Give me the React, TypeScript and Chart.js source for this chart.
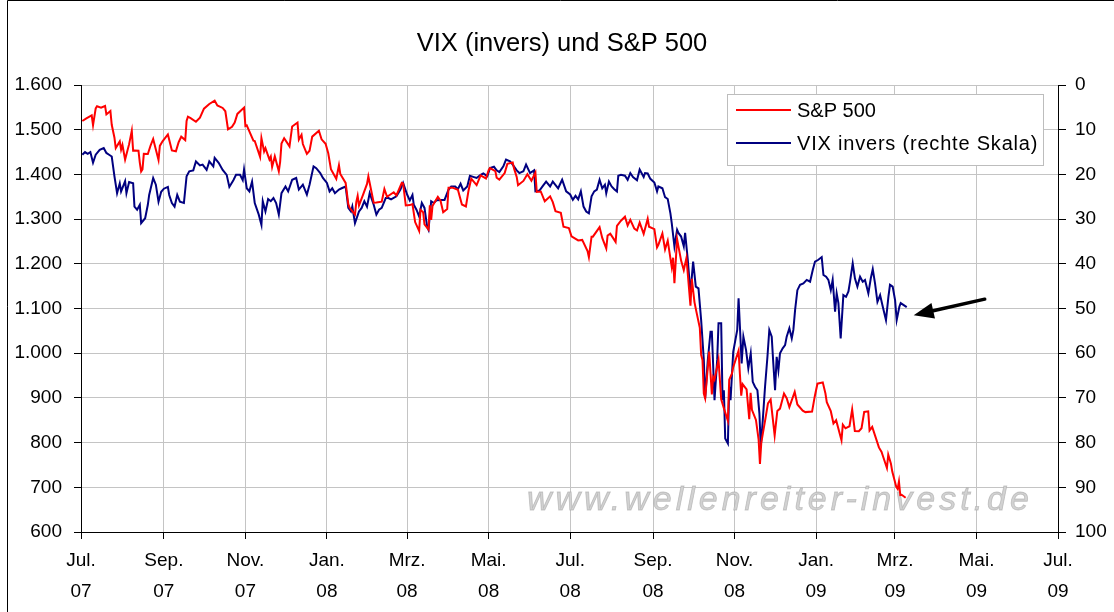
import { useEffect, useRef } from "react";
import { Chart, registerables } from "chart.js";

Chart.register(...registerables);

const chartTitle = "VIX (invers) und S&P 500";
const spxLabel = "S&P 500";
const vixLabel = "VIX invers (rechte Skala)";
const watermarkText = "www.wellenreiter-invest.de";
const startDate = "2007-07-01";

const tickDates = [
  "2007-07-01", "2007-09-01", "2007-11-01", "2008-01-01", "2008-03-01", "2008-05-01", "2008-07-01",
  "2008-09-01", "2008-11-01", "2009-01-01", "2009-03-01", "2009-05-01", "2009-07-01",
];
const tickMonths = ["Jul.", "Sep.", "Nov.", "Jan.", "Mrz.", "Mai.", "Jul.", "Sep.", "Nov.", "Jan.", "Mrz.", "Mai.", "Jul."];
const tickYears = ["07", "07", "07", "08", "08", "08", "08", "08", "08", "09", "09", "09", "09"];

const spxDates = [
  "2007-07-02", "2007-07-05", "2007-07-09", "2007-07-10", "2007-07-12", "2007-07-13", "2007-07-16", "2007-07-19",
  "2007-07-20", "2007-07-23", "2007-07-24", "2007-07-26", "2007-07-27", "2007-07-30", "2007-07-31", "2007-08-01",
  "2007-08-03", "2007-08-06", "2007-08-08", "2007-08-09", "2007-08-10", "2007-08-13", "2007-08-14", "2007-08-15",
  "2007-08-16", "2007-08-17", "2007-08-20", "2007-08-22", "2007-08-24", "2007-08-28", "2007-08-29", "2007-08-31",
  "2007-09-04", "2007-09-07", "2007-09-10", "2007-09-12", "2007-09-14", "2007-09-17", "2007-09-18", "2007-09-19",
  "2007-09-21", "2007-09-25", "2007-09-28", "2007-10-01", "2007-10-05", "2007-10-09", "2007-10-11", "2007-10-15",
  "2007-10-17", "2007-10-19", "2007-10-22", "2007-10-24", "2007-10-26", "2007-10-31", "2007-11-01", "2007-11-02",
  "2007-11-07", "2007-11-08", "2007-11-12", "2007-11-13", "2007-11-15", "2007-11-16", "2007-11-19", "2007-11-20",
  "2007-11-21", "2007-11-23", "2007-11-26", "2007-11-27", "2007-11-28", "2007-11-30", "2007-12-04", "2007-12-06",
  "2007-12-10", "2007-12-11", "2007-12-13", "2007-12-14", "2007-12-17", "2007-12-19", "2007-12-21", "2007-12-26",
  "2007-12-28", "2007-12-31", "2008-01-02", "2008-01-04", "2008-01-08", "2008-01-10", "2008-01-11", "2008-01-15",
  "2008-01-17", "2008-01-18", "2008-01-22", "2008-01-23", "2008-01-24", "2008-01-25", "2008-01-28", "2008-01-31",
  "2008-02-01", "2008-02-05", "2008-02-07", "2008-02-11", "2008-02-13", "2008-02-15", "2008-02-20", "2008-02-22",
  "2008-02-26", "2008-02-27", "2008-02-29", "2008-03-03", "2008-03-05", "2008-03-07", "2008-03-10", "2008-03-11",
  "2008-03-13", "2008-03-14", "2008-03-17", "2008-03-18", "2008-03-19", "2008-03-20", "2008-03-24", "2008-03-26",
  "2008-03-28", "2008-03-31", "2008-04-01", "2008-04-04", "2008-04-08", "2008-04-11", "2008-04-14", "2008-04-16",
  "2008-04-18", "2008-04-22", "2008-04-25", "2008-04-29", "2008-05-01", "2008-05-02", "2008-05-06", "2008-05-07",
  "2008-05-09", "2008-05-13", "2008-05-15", "2008-05-19", "2008-05-20", "2008-05-22", "2008-05-23", "2008-05-27",
  "2008-05-30", "2008-06-02", "2008-06-05", "2008-06-06", "2008-06-09", "2008-06-12", "2008-06-16", "2008-06-18",
  "2008-06-20", "2008-06-24", "2008-06-26", "2008-06-30", "2008-07-02", "2008-07-07", "2008-07-10", "2008-07-14",
  "2008-07-15", "2008-07-17", "2008-07-18", "2008-07-23", "2008-07-25", "2008-07-28", "2008-07-29", "2008-07-31",
  "2008-08-04", "2008-08-05", "2008-08-08", "2008-08-11", "2008-08-13", "2008-08-15", "2008-08-18", "2008-08-20",
  "2008-08-22", "2008-08-25", "2008-08-28", "2008-08-29", "2008-09-02", "2008-09-04", "2008-09-05", "2008-09-08",
  "2008-09-10", "2008-09-12", "2008-09-15", "2008-09-16", "2008-09-17", "2008-09-19", "2008-09-22", "2008-09-24",
  "2008-09-26", "2008-09-29", "2008-09-30", "2008-10-02", "2008-10-03", "2008-10-06", "2008-10-07", "2008-10-08",
  "2008-10-09", "2008-10-10", "2008-10-13", "2008-10-15", "2008-10-16", "2008-10-17", "2008-10-20", "2008-10-22",
  "2008-10-24", "2008-10-27", "2008-10-28", "2008-10-30", "2008-10-31", "2008-11-04", "2008-11-05", "2008-11-06",
  "2008-11-07", "2008-11-10", "2008-11-12", "2008-11-13", "2008-11-14", "2008-11-17", "2008-11-19", "2008-11-20",
  "2008-11-21", "2008-11-24", "2008-11-26", "2008-11-28", "2008-12-01", "2008-12-03", "2008-12-05", "2008-12-08",
  "2008-12-10", "2008-12-12", "2008-12-16", "2008-12-18", "2008-12-22", "2008-12-24", "2008-12-29", "2008-12-31",
  "2009-01-02", "2009-01-06", "2009-01-08", "2009-01-09", "2009-01-12", "2009-01-14", "2009-01-16", "2009-01-20",
  "2009-01-21", "2009-01-23", "2009-01-26", "2009-01-28", "2009-01-30", "2009-02-02", "2009-02-04", "2009-02-06",
  "2009-02-09", "2009-02-10", "2009-02-12", "2009-02-17", "2009-02-19", "2009-02-20", "2009-02-23", "2009-02-24",
  "2009-02-26", "2009-02-27", "2009-03-02", "2009-03-03", "2009-03-04", "2009-03-05", "2009-03-06", "2009-03-09",
];
const spxValues = [
  1519.4, 1525.4, 1531.9, 1510.1, 1547.7, 1552.5, 1549.5, 1553.1,
  1534.1, 1541.6, 1511.0, 1482.7, 1458.9, 1473.9, 1455.3, 1465.8,
  1433.1, 1467.7, 1497.5, 1453.1, 1453.6, 1452.9, 1426.5, 1406.7,
  1411.3, 1445.9, 1445.6, 1464.1, 1479.4, 1432.4, 1463.8, 1474.0,
  1489.4, 1453.6, 1451.7, 1471.6, 1484.3, 1476.7, 1519.8, 1529.0,
  1525.8, 1517.7, 1526.8, 1547.0, 1557.6, 1565.2, 1554.4, 1548.7,
  1541.2, 1500.6, 1506.3, 1515.9, 1535.3, 1549.4, 1508.4, 1509.7,
  1475.6, 1474.8, 1439.2, 1481.1, 1451.2, 1458.7, 1433.3, 1439.7,
  1416.8, 1440.7, 1407.2, 1428.2, 1469.0, 1481.1, 1462.8, 1507.3,
  1516.0, 1477.6, 1488.4, 1468.0, 1445.9, 1453.0, 1484.5, 1497.7,
  1478.5, 1468.4, 1447.2, 1411.6, 1390.2, 1420.3, 1401.0, 1381.0,
  1333.3, 1325.2, 1310.5, 1338.6, 1352.1, 1330.6, 1354.0, 1378.6,
  1395.4, 1336.6, 1336.9, 1339.1, 1367.2, 1350.0, 1360.0, 1353.1,
  1381.3, 1380.0, 1330.6, 1331.3, 1333.7, 1293.4, 1273.4, 1320.7,
  1315.5, 1288.1, 1276.6, 1330.7, 1298.4, 1329.5, 1349.9, 1341.1,
  1315.2, 1322.7, 1370.2, 1370.4, 1365.5, 1332.8, 1328.3, 1364.7,
  1390.3, 1375.9, 1397.8, 1390.9, 1409.3, 1413.9, 1407.5, 1392.6,
  1388.3, 1403.0, 1423.6, 1426.6, 1413.4, 1394.4, 1375.9, 1385.4,
  1400.4, 1385.7, 1404.1, 1360.7, 1361.8, 1339.9, 1350.9, 1337.8,
  1317.9, 1314.3, 1283.2, 1280.0, 1261.5, 1252.3, 1253.4, 1228.3,
  1214.9, 1260.7, 1260.7, 1282.2, 1257.8, 1234.4, 1263.2, 1267.4,
  1249.0, 1284.9, 1296.3, 1305.3, 1285.8, 1298.2, 1278.6, 1274.5,
  1292.2, 1266.8, 1300.7, 1282.8, 1277.6, 1236.8, 1242.3, 1267.8,
  1232.0, 1251.7, 1192.7, 1213.6, 1156.4, 1255.1, 1207.1, 1185.9,
  1213.3, 1106.4, 1166.4, 1114.3, 1099.2, 1056.9, 996.2, 984.9,
  909.9, 899.2, 1003.4, 907.8, 946.4, 940.6, 985.4, 896.8,
  876.8, 848.9, 940.5, 954.1, 968.8, 1005.8, 952.8, 904.9,
  931.0, 919.2, 852.3, 911.3, 873.3, 850.8, 806.6, 752.4,
  800.0, 851.8, 887.7, 896.2, 816.2, 870.7, 876.1, 909.7,
  899.2, 879.7, 913.2, 885.3, 871.6, 868.2, 869.4, 903.3,
  931.8, 934.7, 909.7, 890.4, 870.3, 842.6, 850.1, 805.2,
  840.2, 832.0, 836.6, 874.1, 825.9, 825.4, 832.2, 868.6,
  869.9, 827.2, 835.2, 789.2, 778.9, 770.1, 743.3, 773.1,
  752.8, 735.1, 700.8, 696.3, 712.9, 682.6, 683.4, 676.5,
];

// VIX: days since 2007-07-01 (right scale, inverted)
const vixDays = [
  1, 3, 5, 7, 9, 11, 14, 17, 19, 21, 23, 25, 27, 29, 30, 33, 34, 36, 39, 40,
  42, 44, 45, 48, 50, 51, 54, 56, 58, 60, 62, 65, 66, 68, 70, 72, 74, 77, 79, 81,
  84, 86, 89, 91, 94, 96, 99, 100, 103, 106, 109, 111, 114, 116, 119, 121, 122, 124, 126, 128,
  130, 133, 135, 136, 138, 140, 142, 144, 146, 148, 150, 153, 155, 158, 161, 163, 166, 169, 171, 174,
  176, 179, 181, 184, 186, 188, 190, 193, 195, 198, 200, 202, 203, 205, 208, 210, 212, 214, 216, 219,
  221, 223, 225, 228, 230, 232, 236, 239, 241, 244, 246, 248, 249, 251, 253, 255, 257, 259, 260, 262,
  264, 266, 270, 272, 275, 277, 280, 282, 284, 286, 289, 291, 294, 296, 299, 301, 304, 306, 309, 311,
  313, 316, 318, 321, 323, 326, 328, 331, 333, 336, 339, 340, 343, 346, 348, 351, 353, 357, 360, 363,
  366, 368, 370, 372, 374, 376, 378, 380, 382, 384, 386, 388, 390, 392, 393, 395, 397, 399, 401, 402,
  404, 407, 409, 411, 413, 416, 418, 421, 422, 424, 426, 429, 431, 432, 435, 437, 439, 441, 442, 444,
  446, 447, 449, 451, 452, 454, 456, 458, 460, 462, 464, 466, 467, 469, 471, 472, 474, 476, 477, 479,
  480, 481, 482, 484, 485, 486, 488, 491, 492, 493, 494.3, 495.6, 497.6, 499.3, 501.1, 502.6, 504.3, 506.1, 507.6, 508.6,
  510.1, 511.8, 513.6, 515, 516.8, 518, 519.3, 520.5, 521.8, 523, 525, 526.8, 528, 530, 531.8, 533, 534.3, 536, 538, 540.5,
  543, 545.5, 547.5, 549.2, 551.7, 554.2, 555.5, 557.5, 559.2, 561, 562.4, 564.2, 565.4, 566.7, 568.4, 570.4, 572.4, 574.2, 575.4, 577.4,
  579.1, 580.9, 582.9, 584.9, 586.6, 589.1, 590.9, 592.4, 594.1, 595.9, 597.9, 599.9, 602.3, 604.1, 605.3, 607.3, 609.1, 610.3, 612.3, 613.3,
  615.3, 617.8,
];
const vixValues = [
  15.6, 15.0, 15.4, 15.0, 17.4, 15.6, 14.5, 14.1, 15.2, 15.6, 16.0, 20.4, 24.2, 22.0, 23.8, 21.5, 24.2, 21.7, 22.0, 27.2,
  27.9, 26.8, 30.9, 29.8, 26.8, 24.6, 20.8, 22.3, 26.1, 23.9, 23.2, 22.8, 24.6, 26.4, 27.2, 24.6, 26.1, 26.4, 20.4, 19.3,
  19.1, 17.1, 18.0, 17.8, 19.0, 17.1, 18.2, 16.3, 17.4, 19.0, 20.1, 22.8, 21.3, 20.1, 20.1, 21.3, 18.9, 23.1, 23.8, 21.6,
  26.4, 29.0, 31.3, 26.0, 28.3, 25.5, 26.0, 25.3, 26.4, 29.0, 24.2, 22.7, 23.8, 21.2, 20.8, 23.4, 22.3, 24.5, 22.3, 18.2,
  18.6, 19.7, 20.8, 21.9, 23.8, 23.1, 24.2, 23.4, 23.1, 22.7, 27.5, 28.3, 27.2, 30.9, 28.3, 27.5, 26.0, 27.2, 24.2, 26.8,
  29.0, 27.9, 27.5, 25.3, 25.3, 25.6, 24.9, 23.4, 21.9, 24.5, 25.8, 24.6, 26.8, 27.9, 29.4, 26.4, 27.5, 31.7, 32.4, 26.0,
  26.4, 25.8, 25.7, 25.7, 23.4, 22.7, 22.7, 23.3, 22.1, 23.6, 22.7, 20.3, 20.6, 20.8, 20.1, 19.8, 20.4, 18.6, 18.3, 19.1,
  19.5, 18.2, 16.7, 17.1, 17.8, 19.1, 19.7, 19.3, 17.8, 19.7, 19.1, 23.8, 23.6, 22.4, 21.6, 22.7, 21.6, 23.1, 21.2, 23.8,
  24.5, 25.7, 24.8, 25.6, 23.8, 27.2, 28.3, 28.7, 24.9, 23.8, 23.4, 21.2, 23.1, 22.3, 24.2, 21.6, 22.7, 23.3, 23.8, 20.3,
  20.1, 20.3, 21.2, 19.7, 20.6, 21.3, 18.9, 20.6, 19.7, 19.8, 21.0, 21.8, 23.8, 22.7, 23.1, 25.1, 25.5, 28.7, 30.9, 36.1,
  32.4, 33.1, 33.9, 36.1, 33.1, 39.1, 46.6, 39.5, 45.1, 45.5, 52.6, 61.5, 70.1, 61.5, 55.2, 55.2, 70.5, 61.5, 53.3, 53.3,
  70.5, 68.3, 79.1, 80.2, 67.5, 70.5, 59.7, 54.8, 47.7, 54.0, 62.3, 56.3, 59.3, 63.4, 60.0, 66.4, 67.5, 68.3, 73.5, 81.0,
  75.0, 67.5, 60.8, 54.8, 56.3, 62.3, 68.3, 60.8, 63.8, 60.0, 58.9, 58.2, 56.3, 54.4, 56.7, 54.8, 50.3, 45.9, 44.7, 44.4,
  43.6, 44.0, 41.4, 39.5, 39.1, 38.5, 42.5, 42.9, 43.6, 45.9, 43.6, 50.7, 46.6, 48.8, 56.7, 47.0, 47.4, 46.2, 44.0, 39.9,
  43.3, 45.1, 42.9, 44.0, 43.6, 46.6, 43.3, 41.2, 44.4, 48.5, 47.0, 49.6, 52.6, 47.4, 44.7, 45.1, 48.1, 52.6, 49.6, 48.8,
  49.2, 49.7,
];

const FONT = "'Liberation Sans', Arial, sans-serif";

function dayOf(iso: string): number {
  return Math.round((Date.parse(iso + "T00:00:00Z") - Date.parse(startDate + "T00:00:00Z")) / 86400000);
}

function fmtThousands(v: number): string {
  if (v >= 1000) {
    const th = Math.floor(v / 1000);
    const rest = String(Math.round(v % 1000)).padStart(3, "0");
    return th + "." + rest;
  }
  return String(v);
}

const decorPlugin = {
  id: "decor",
  beforeDatasetsDraw(chart: any) {
    const ctx = chart.ctx;
    ctx.save();
    ctx.font = `italic 34px ${FONT}`;
    (ctx as any).letterSpacing = "4px";
    ctx.textAlign = "left";
    ctx.textBaseline = "alphabetic";
    ctx.fillStyle = "#d2d2d2";
    ctx.fillText(watermarkText, 527, 510);
    ctx.strokeStyle = "rgba(160,160,160,0.55)";
    ctx.lineWidth = 0.8;
    ctx.strokeText(watermarkText, 527, 510);
    ctx.restore();
  },
  afterDraw(chart: any) {
    const ctx = chart.ctx;
    ctx.save();
    // frame
    ctx.strokeStyle = "#000";
    ctx.lineWidth = 1;
    ctx.beginPath();
    ctx.moveTo(7.5, 612);
    ctx.lineTo(7.5, 0.5);
    ctx.lineTo(1114, 0.5);
    ctx.stroke();

    // title
    ctx.fillStyle = "#000";
    ctx.font = `25.5px ${FONT}`;
    ctx.textAlign = "center";
    ctx.textBaseline = "middle";
    ctx.fillText(chartTitle, 562, 44);

    // legend
    const lx = 727, ly = 94, lw = 316, lh = 71;
    ctx.fillStyle = "#fff";
    ctx.fillRect(lx, ly, lw, lh);
    ctx.strokeStyle = "#bdbdbd";
    ctx.lineWidth = 1;
    ctx.strokeRect(lx + 0.5, ly + 0.5, lw, lh);
    const items = [
      { text: spxLabel, color: chart.data.datasets[0].borderColor, y: ly + 16, spacing: "0px" },
      { text: vixLabel, color: chart.data.datasets[1].borderColor, y: ly + 49, spacing: "0.8px" },
    ];
    ctx.font = `20px ${FONT}`;
    ctx.textAlign = "left";
    ctx.textBaseline = "middle";
    for (const it of items) {
      ctx.strokeStyle = it.color;
      ctx.lineWidth = 2;
      ctx.beginPath();
      ctx.moveTo(lx + 9, it.y);
      ctx.lineTo(lx + 64, it.y);
      ctx.stroke();
      ctx.fillStyle = "#000";
      (ctx as any).letterSpacing = it.spacing;
      ctx.fillText(it.text, lx + 70, it.y + 1);
    }
    (ctx as any).letterSpacing = "0px";

    // arrow pointing at the last VIX point
    const meta = chart.getDatasetMeta(1);
    const last = meta.data[meta.data.length - 1];
    if (last) {
      const tipX = last.x + 7;
      const tipY = last.y + 8;
      const tailX = tipX + 71;
      const tailY = tipY - 16;
      const ang = Math.atan2(tipY - tailY, tipX - tailX);
      const headLen = 20;
      const headW = 8;
      const bx = tipX - headLen * Math.cos(ang);
      const by = tipY - headLen * Math.sin(ang);
      ctx.strokeStyle = "#000";
      ctx.lineWidth = 3.5;
      ctx.lineCap = "round";
      ctx.beginPath();
      ctx.moveTo(tailX, tailY);
      ctx.lineTo(bx, by);
      ctx.stroke();
      ctx.fillStyle = "#000";
      ctx.beginPath();
      ctx.moveTo(tipX, tipY);
      ctx.lineTo(bx + headW * Math.sin(ang), by - headW * Math.cos(ang));
      ctx.lineTo(bx - headW * Math.sin(ang), by + headW * Math.cos(ang));
      ctx.closePath();
      ctx.fill();
    }
    ctx.restore();
  },
};

export default function App() {
  const canvasRef = useRef<HTMLCanvasElement | null>(null);

  useEffect(() => {
    const canvas = canvasRef.current;
    if (!canvas) return;
    const tickFont = { family: FONT, size: 19 };
    const chart = new Chart(canvas, {
      type: "line",
      data: {
        datasets: [
          {
            label: spxLabel,
            data: spxDates.map((d, i) => ({ x: dayOf(d), y: spxValues[i] })),
            borderColor: "#ff0000",
            backgroundColor: "#ff0000",
            borderWidth: 2,
            pointRadius: 0,
            tension: 0,
            yAxisID: "y",
          },
          {
            label: vixLabel,
            data: vixDays.map((d, i) => ({ x: d, y: vixValues[i] })),
            borderColor: "#000080",
            backgroundColor: "#000080",
            borderWidth: 2,
            pointRadius: 0,
            tension: 0,
            yAxisID: "y2",
          },
        ],
      },
      options: {
        animation: false,
        responsive: false,
        events: [],
        layout: { padding: { top: 85, left: 0, right: 0, bottom: 0 } },
        plugins: {
          legend: { display: false },
          title: { display: false },
          tooltip: { enabled: false },
        },
        scales: {
          x: {
            type: "linear",
            min: dayOf(tickDates[0]),
            max: dayOf(tickDates[tickDates.length - 1]),
            afterBuildTicks: (scale: any) => {
              scale.ticks = tickDates.map((d) => ({ value: dayOf(d) }));
            },
            afterFit: (scale: any) => {
              scale.height = 80;
            },
            ticks: {
              autoSkip: false,
              maxRotation: 0,
              minRotation: 0,
              color: "#000",
              padding: 7,
              font: { ...tickFont, lineHeight: 1.6 },
              callback: (_v: any, i: number) => [tickMonths[i], tickYears[i]],
            },
            grid: { color: "#c4c4c4", tickColor: "#000", tickLength: 7, lineWidth: 1 },
            border: { color: "#000", width: 1 },
          },
          y: {
            position: "left",
            min: 600,
            max: 1600,
            afterFit: (scale: any) => {
              scale.width = 81;
            },
            ticks: {
              stepSize: 100,
              color: "#000",
              padding: 12,
              font: tickFont,
              callback: (v: any) => fmtThousands(Number(v)),
            },
            grid: { color: "#c4c4c4", tickColor: "#000", tickLength: 7, lineWidth: 1 },
            border: { color: "#000", width: 1 },
          },
          y2: {
            position: "right",
            min: 0,
            max: 100,
            reverse: true,
            afterFit: (scale: any) => {
              scale.width = 56;
            },
            ticks: {
              stepSize: 10,
              color: "#000",
              padding: 9,
              font: tickFont,
            },
            grid: { drawOnChartArea: false, tickColor: "#000", tickLength: 8 },
            border: { color: "#000", width: 1 },
          },
        },
      } as any,
      plugins: [decorPlugin],
    });
    return () => chart.destroy();
  }, []);

  return (
    <div style={{ position: "fixed", left: 0, top: 0, width: 1114, height: 612, background: "#fff" }}>
      <canvas ref={canvasRef} width={1114} height={612} style={{ display: "block", width: 1114, height: 612 }} />
    </div>
  );
}
